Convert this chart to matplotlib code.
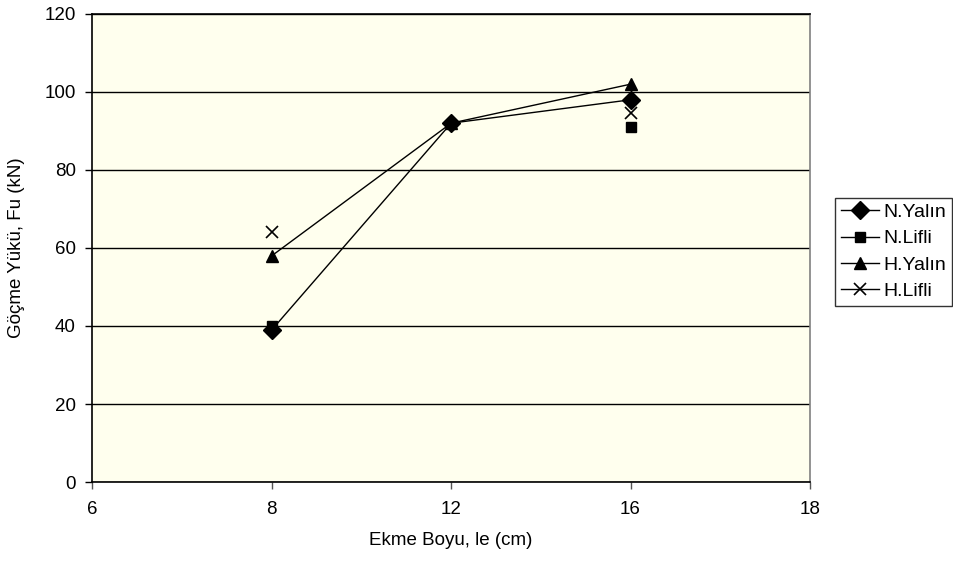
import numpy as np
import matplotlib.pyplot as plt

plt.rcParams['font.family'] = ['Liberation Sans', 'DejaVu Sans']

# category axis (Excel line chart): equally spaced categories
categories = ['6', '8', '12', '16', '18']
x_points = ['8', '12', '16']

n_yalin = [39, 92, 98]
n_lifli = [40, np.nan, 91]
h_yalin = [58, 92, 102]
h_lifli = [64, np.nan, 94.5]

y_ticks = [0, 20, 40, 60, 80, 100, 120]

fig = plt.figure(figsize=(9.54, 5.66), dpi=100)
ax = fig.add_axes([0.0968, 0.1484, 0.849 - 0.0968, 0.9753 - 0.1484])
ax.set_facecolor('#FFFFEE')

xpos = [categories.index(c) for c in x_points]

ax.plot(xpos, n_yalin, color='black', lw=1, marker='D', ms=9, label='N.Yalın', zorder=3)
ax.plot(xpos, n_lifli, color='black', lw=1, marker='s', ms=6.5, label='N.Lifli', zorder=3)
ax.plot(xpos, h_yalin, color='black', lw=1, marker='^', ms=9, label='H.Yalın', zorder=3)
ax.plot(xpos, h_lifli, color='black', lw=1, marker='x', ms=9, mew=1.2, label='H.Lifli', zorder=3)

ax.set_xlim(0, len(categories) - 1)
ax.set_xticks(range(len(categories)))
ax.set_xticklabels(categories)
ax.set_ylim(0, 120)
ax.set_yticks(y_ticks)

ax.yaxis.grid(True, color='black', lw=1)
ax.set_axisbelow(True)

for s in ['left', 'bottom', 'top']:
    ax.spines[s].set_color('black')
    ax.spines[s].set_linewidth(1.2)
ax.spines['right'].set_color('#808080')
ax.spines['right'].set_linewidth(1.2)

ax.tick_params(axis='both', direction='out', length=5, width=1, labelsize=13.5, pad=7)
ax.tick_params(axis='x', colors='#555555', labelcolor='black', pad=9)

ax.set_xlabel('Ekme Boyu, le (cm)', fontsize=13.5, labelpad=10)
ax.set_ylabel('Göçme Yükü, Fu (kN)', fontsize=13.5, labelpad=14)

leg = ax.legend(loc='center left', bbox_to_anchor=(0.875, 0.555), bbox_transform=fig.transFigure,
                frameon=True, fancybox=False, edgecolor='black', fontsize=14,
                handlelength=2.0, handletextpad=0.2, labelspacing=0.45, borderpad=0.3,
                borderaxespad=0)
leg.get_frame().set_linewidth(1)

fig.savefig('out.png', dpi=100)
